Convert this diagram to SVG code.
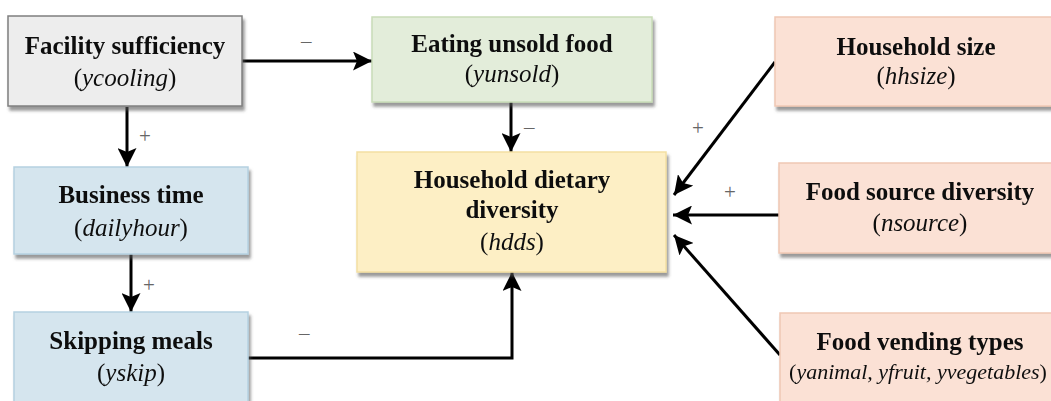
<svg xmlns="http://www.w3.org/2000/svg" width="1051" height="401" viewBox="0 0 1051 401">
<defs>
<filter id="sh" x="-10%" y="-10%" width="125%" height="130%">
<feDropShadow dx="2" dy="4" stdDeviation="1.5" flood-color="#555" flood-opacity="0.6"/>
</filter>
<marker id="ahl" markerWidth="19" markerHeight="19" viewBox="0 0 19 19" refX="19" refY="9.5" orient="auto" markerUnits="userSpaceOnUse">
<path d="M0,0 L19,9.5 L0,19 L4,9.5 Z" fill="#000"/>
</marker>
</defs>
<style>
.t{font-family:"Liberation Serif",serif;font-size:25px;font-weight:bold;text-anchor:middle;fill:#111}
.v{font-family:"Liberation Serif",serif;font-size:25px;text-anchor:middle;fill:#111}
.s{font-family:"Liberation Serif",serif;font-size:21px;fill:#666}
.c{stroke:#000;stroke-width:3;fill:none}
.gray{fill:#ededed;stroke:#7f7f7f;stroke-width:1.5}
.green{fill:#e3edda;stroke:#c9dcb8;stroke-width:1.5}
.yel{fill:#fdefc5;stroke:#f3dfa2;stroke-width:1.5}
.blue{fill:#d5e5ee;stroke:#b5d1e1;stroke-width:1.5}
.pink{fill:#fbe1d5;stroke:#f0c8b4;stroke-width:1.5}
</style>
<g id="connectors">
<line class="c" x1="242" y1="61" x2="372" y2="61" marker-end="url(#ahl)"/>
<line class="c" x1="127" y1="107" x2="127" y2="167" marker-end="url(#ahl)"/>
<line class="c" x1="131" y1="254" x2="131" y2="312" marker-end="url(#ahl)"/>
<polyline class="c" points="248,358 512,358 512,272" marker-end="url(#ahl)"/>
<line class="c" x1="511" y1="102" x2="511" y2="152" marker-end="url(#ahl)"/>
<line class="c" x1="775" y1="62" x2="674" y2="195" marker-end="url(#ahl)"/>
<line class="c" x1="779" y1="215" x2="673" y2="215" marker-end="url(#ahl)"/>
<line class="c" x1="780" y1="355" x2="674" y2="235" marker-end="url(#ahl)"/>
<text class="s" x="301" y="48">–</text>
<text class="s" x="139" y="143">+</text>
<text class="s" x="143" y="292">+</text>
<text class="s" x="299" y="340">–</text>
<text class="s" x="524" y="134">–</text>
<text class="s" x="692" y="135">+</text>
<text class="s" x="724" y="199">+</text>
</g>
<g id="facility" filter="url(#sh)">
<rect class="gray" x="8" y="16" width="234" height="90"/>
<text class="t" x="125" y="54">Facility sufficiency</text>
<text class="v" x="125" y="86">(<tspan font-style="italic">ycooling</tspan>)</text>
</g>
<g id="unsold" filter="url(#sh)">
<rect class="green" x="372" y="17" width="280" height="85"/>
<text class="t" x="512" y="52">Eating unsold food</text>
<text class="v" x="512" y="82">(<tspan font-style="italic">yunsold</tspan>)</text>
</g>
<g id="hdds" filter="url(#sh)">
<rect class="yel" x="357" y="152" width="309" height="120"/>
<text class="t" x="512" y="188">Household dietary</text>
<text class="t" x="512" y="218">diversity</text>
<text class="v" x="512" y="250">(<tspan font-style="italic">hdds</tspan>)</text>
</g>
<g id="business" filter="url(#sh)">
<rect class="blue" x="14" y="167" width="234" height="87"/>
<text class="t" x="131" y="203">Business time</text>
<text class="v" x="131" y="236">(<tspan font-style="italic">dailyhour</tspan>)</text>
</g>
<g id="skipping" filter="url(#sh)">
<rect class="blue" x="14" y="312" width="234" height="100"/>
<text class="t" x="131" y="349">Skipping meals</text>
<text class="v" x="131" y="381">(<tspan font-style="italic">yskip</tspan>)</text>
</g>
<g id="hhsize" filter="url(#sh)">
<rect class="pink" x="775" y="17" width="290" height="89"/>
<text class="t" x="916" y="55">Household size</text>
<text class="v" x="916" y="84">(<tspan font-style="italic">hhsize</tspan>)</text>
</g>
<g id="nsource" filter="url(#sh)">
<rect class="pink" x="779" y="163" width="290" height="90"/>
<text class="t" x="920" y="200">Food source diversity</text>
<text class="v" x="920" y="231">(<tspan font-style="italic">nsource</tspan>)</text>
</g>
<g id="vending" filter="url(#sh)">
<rect class="pink" x="780" y="313" width="290" height="100"/>
<text class="t" x="920" y="350">Food vending types</text>
<text class="v" x="918" y="379" style="font-size:22px">(<tspan font-style="italic">yanimal, yfruit, yvegetables</tspan>)</text>
</g>
</svg>
